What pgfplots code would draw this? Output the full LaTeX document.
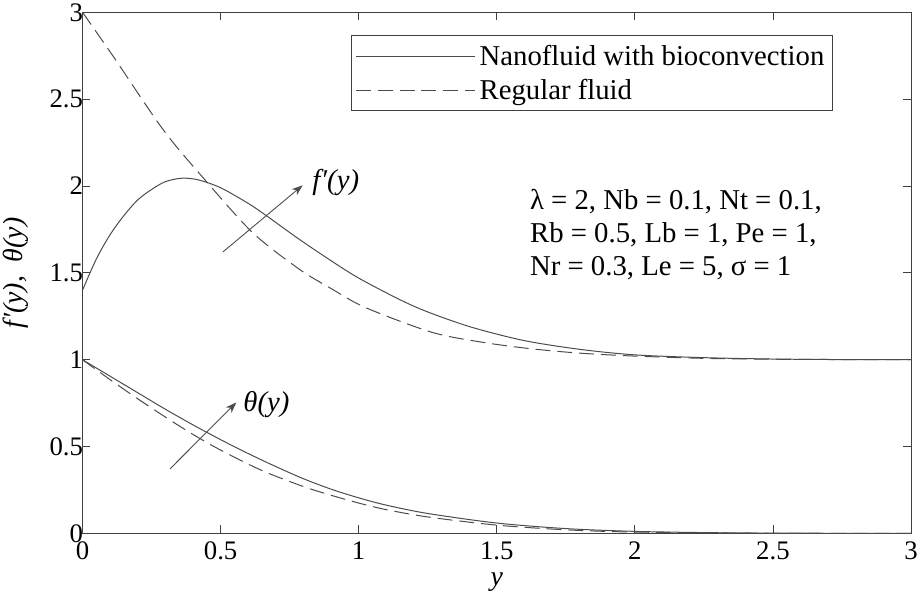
\documentclass[border=0pt]{standalone}
\usepackage{fontspec}
\setmainfont{Liberation Serif}
\usepackage{pgfplots}
\pgfplotsset{compat=1.18}
\usetikzlibrary{arrows.meta}
\definecolor{axcol}{gray}{0.25}
\definecolor{crv}{gray}{0.3}
\begin{document}
\begin{tikzpicture}
\begin{axis}[
  width=833bp, height=524bp, scale only axis,
  xmin=0, xmax=3, ymin=0, ymax=3,
  xtick={0,0.5,1,1.5,2,2.5,3},
  ytick={0,0.5,1,1.5,2,2.5,3},
  tick align=inside,
  major tick length=8bp,
  axis line style={axcol, line width=0.8bp},
  tick style={axcol, line width=0.8bp},
  /pgf/number format/assume math mode=true,
  ticklabel style={font=\fontsize{27}{27}\selectfont},
  xticklabel style={yshift=-5bp},
  yticklabel style={xshift=4bp},
  xlabel={\textit{y}},
  ylabel={\textit{f\kern0.5bp′(y),\ \ θ(y)}},
  label style={font=\fontsize{28}{28}\selectfont},
  xlabel style={yshift=-6bp},
  ylabel style={yshift=14bp},
  legend style={at={(0.324,0.956)}, anchor=north west, draw=axcol, line width=0.8bp,
    font=\fontsize{29}{29}\selectfont, inner xsep=4bp, inner ysep=8bp,
    row sep=8bp, nodes={inner xsep=4bp}},
  legend cell align=left,
  legend image code/.code={\draw[#1, line width=1bp] (0bp,0bp) -- (120bp,0bp);},
]
% f'(y) nanofluid with bioconvection
\addplot[crv, line width=1bp, smooth] coordinates {
(0,1.40) (0.05,1.58) (0.1,1.72) (0.15,1.83) (0.2,1.92) (0.25,1.98) (0.3,2.025)
(0.36,2.045) (0.42,2.035) (0.5,1.99) (0.6,1.90) (0.665,1.83) (0.785,1.693)
(0.90,1.57) (1.0,1.47) (1.145,1.349) (1.25,1.275) (1.409,1.187) (1.6,1.11)
(1.8,1.06) (2.0,1.028) (2.25,1.012) (2.5,1.004) (2.75,1.001) (3.0,1.0)};
\addlegendentry{Nanofluid with bioconvection\hspace{8bp}}
% f'(y) regular fluid
\addplot[crv, line width=1bp, dash pattern=on 15bp off 7bp, smooth] coordinates {
(0,3.0) (0.113,2.742) (0.293,2.322) (0.443,2.036) (0.617,1.73) (0.785,1.521)
(0.90,1.41) (1.025,1.30) (1.265,1.158) (1.45,1.10) (1.625,1.063) (1.8,1.038)
(1.985,1.022) (2.25,1.008) (2.5,1.003) (2.75,1.001) (3.0,1.0)};
\addlegendentry{Regular fluid}
% theta nanofluid
\addplot[crv, line width=1bp, smooth, forget plot] coordinates {
(0,1.0) (0.1,0.905) (0.2,0.81) (0.3,0.715) (0.4,0.625) (0.5,0.54)
(0.6,0.46) (0.7,0.385) (0.8,0.315) (0.9,0.255) (1.0,0.205) (1.1,0.163) (1.25,0.115)
(1.5,0.06) (1.75,0.028) (2.0,0.012) (2.25,0.005) (2.5,0.002) (3.0,0.0)};
% theta regular
\addplot[crv, line width=1bp, dash pattern=on 15bp off 7bp, smooth, forget plot] coordinates {
(0,1.0) (0.1,0.885) (0.2,0.775) (0.3,0.67) (0.4,0.57) (0.5,0.48)
(0.65,0.362) (0.8,0.27) (0.9,0.22) (1.0,0.175) (1.1,0.137) (1.25,0.095)
(1.5,0.048) (1.75,0.021) (2.0,0.008) (2.5,0.001) (3.0,0.0)};
% arrows and labels
\draw[crv, line width=0.9bp, -{Stealth[length=11bp,width=8bp]}] (axis cs:0.508,1.62) -- (axis cs:0.797,2.004);
\node[anchor=west, font=\fontsize{29}{29}\selectfont\itshape] at (axis cs:0.82,2.02) {f\kern0.5bp′(y)};
\draw[crv, line width=0.9bp, -{Stealth[length=11bp,width=8bp]}] (axis cs:0.317,0.372) -- (axis cs:0.557,0.754);
\node[anchor=west, font=\fontsize{29}{29}\selectfont\itshape] at (axis cs:0.57,0.74) {θ(y)};
\node[anchor=north west, align=left, inner sep=0pt, font=\fontsize{29}{33}\selectfont] at (axis cs:1.62,1.98)
  {λ = 2, Nb = 0.1, Nt = 0.1,\\ Rb = 0.5, Lb = 1, Pe = 1,\\ Nr = 0.3, Le = 5, σ = 1};
\end{axis}
\end{tikzpicture}
\end{document}
